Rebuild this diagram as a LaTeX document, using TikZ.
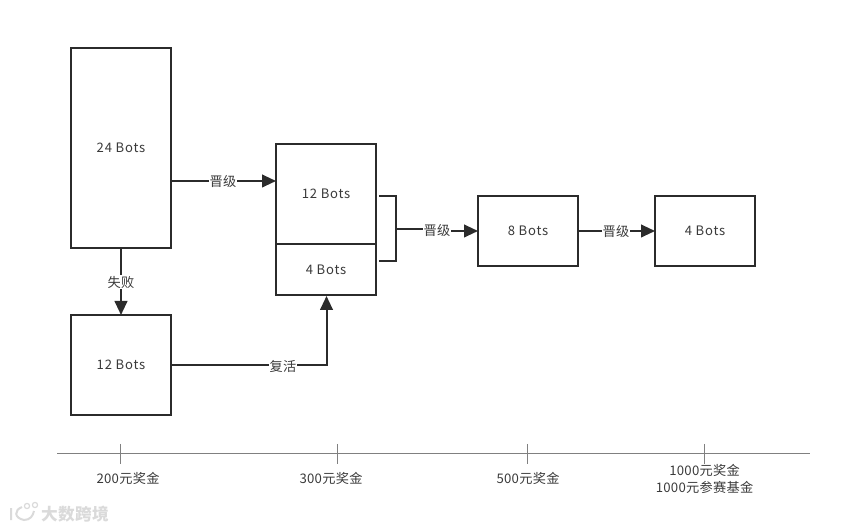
\documentclass[tikz,border=0pt]{standalone}
\usepackage{fontspec}
\usetikzlibrary{arrows.meta}
\setmainfont{Noto Sans CJK SC}[LetterSpace=2]
\newfontfamily\botfont{Noto Sans CJK SC}[LetterSpace=6]
\definecolor{ink}{HTML}{2B2B2B}
\definecolor{txt}{HTML}{3A3A3A}
\definecolor{axisc}{HTML}{808080}
\definecolor{wm}{HTML}{DADADA}
\tikzset{
  every node/.style={font=\fontsize{9.9}{13}\selectfont,text=txt},
  botbox/.style={draw=ink,line width=1.5pt,fill=white,inner sep=0pt,outer sep=0pt,align=center,font=\botfont\fontsize{9.8}{13}\selectfont},
  link/.style={draw=ink,line width=1.5pt},
  arrowed/.style={link,-{Triangle[length=10.5pt,width=9.5pt]}},
  lab/.style={fill=white,inner sep=0.4pt},
  axisline/.style={draw=axisc,line width=0.75pt},
  prize/.style={align=center,inner sep=0pt}
}
\begin{document}
\begin{tikzpicture}[x=0.75pt,y=-0.75pt]
\useasboundingbox (0,0) rectangle (842,530);
\node[botbox,minimum width=75pt,minimum height=150pt] (a) at (121,148) {24 Bots};
\node[botbox,minimum width=75pt,minimum height=75pt] (b) at (326,194) {12 Bots};
\node[botbox,minimum width=75pt,minimum height=38.25pt] (c) at (326,269.5) {4 Bots};
\node[botbox,minimum width=75pt,minimum height=75pt] (d) at (121,365) {12 Bots};
\node[botbox,minimum width=75pt,minimum height=52.5pt] (e) at (528,231) {8 Bots};
\node[botbox,minimum width=75pt,minimum height=52.5pt] (f) at (705,231) {4 Bots};
% labels
\node[lab] (l1) at (223,181.5) {晋级};
\node[lab] (l2) at (121,282) {失败};
\node[lab] (l3) at (283,366) {复活};
\node[lab] (l4) at (437,230.5) {晋级};
\node[lab] (l5) at (616,231) {晋级};
% connectors
\coordinate (ae) at (171,181);
\coordinate (be) at (276,181);
\draw[link] (ae) -- (l1.west |- ae);
\draw[arrowed] (l1.east |- ae) -- (be);
\draw[link] (a.south) -- (l2.north);
\draw[arrowed] (l2.south) -- (d.north);
\coordinate (dl) at (171,365);
\coordinate (cl) at (326.5,365);
\coordinate (cb) at (326.5,296);
\draw[link] (dl) -- (l3.west |- dl);
\draw[arrowed] (l3.east |- cl) -- (cl) -- (cb);
\coordinate (bt) at (379,196);
\coordinate (bb) at (379,261);
\coordinate (bc) at (396,196);
\coordinate (bd) at (396,261);
\coordinate (bm) at (396,229);
\draw[link] (bt) -- (bc) -- (bd) -- (bb);
\draw[link] (bm) -- (l4.west |- bm);
\draw[arrowed] (l4.east |- e.west) -- (e.west);
\draw[link] (e.east) -- (l5.west);
\draw[arrowed] (l5.east) -- (f.west);
% axis
\coordinate (x0) at (57,453.5);
\coordinate (x1) at (810,453.5);
\draw[axisline] (x0) -- (x1);
\foreach \n/\x in {t1/120.5,t2/337.5,t3/527.5,t4/704.5}{
  \coordinate (\n a) at (\x,444);
  \coordinate (\n b) at (\x,464);
  \draw[axisline] (\n a) -- (\n b);
}
\node[prize] (p1) at (128,478.5) {200元奖金};
\node[prize] (p2) at (331,478.5) {300元奖金};
\node[prize] (p3) at (528,478.5) {500元奖金};
\node[prize] (p4) at (704.5,479) {1000元奖金\\1000元参赛基金};
% watermark
\node[inner sep=0pt,text=wm,font=\fontsize{12.5}{14}\bfseries\selectfont] (w) at (75,514) {大数跨境};
\draw[wm,line width=1.5pt] (11,508) -- (11,520) (22,507) .. controls (14,510) and (14,518) .. (24,520) .. controls (30,520) and (33,516) .. (34,511);
\draw[wm,line width=0.9pt] (27,506) circle (2.6) (35,505) circle (2.6);
\end{tikzpicture}
\end{document}
